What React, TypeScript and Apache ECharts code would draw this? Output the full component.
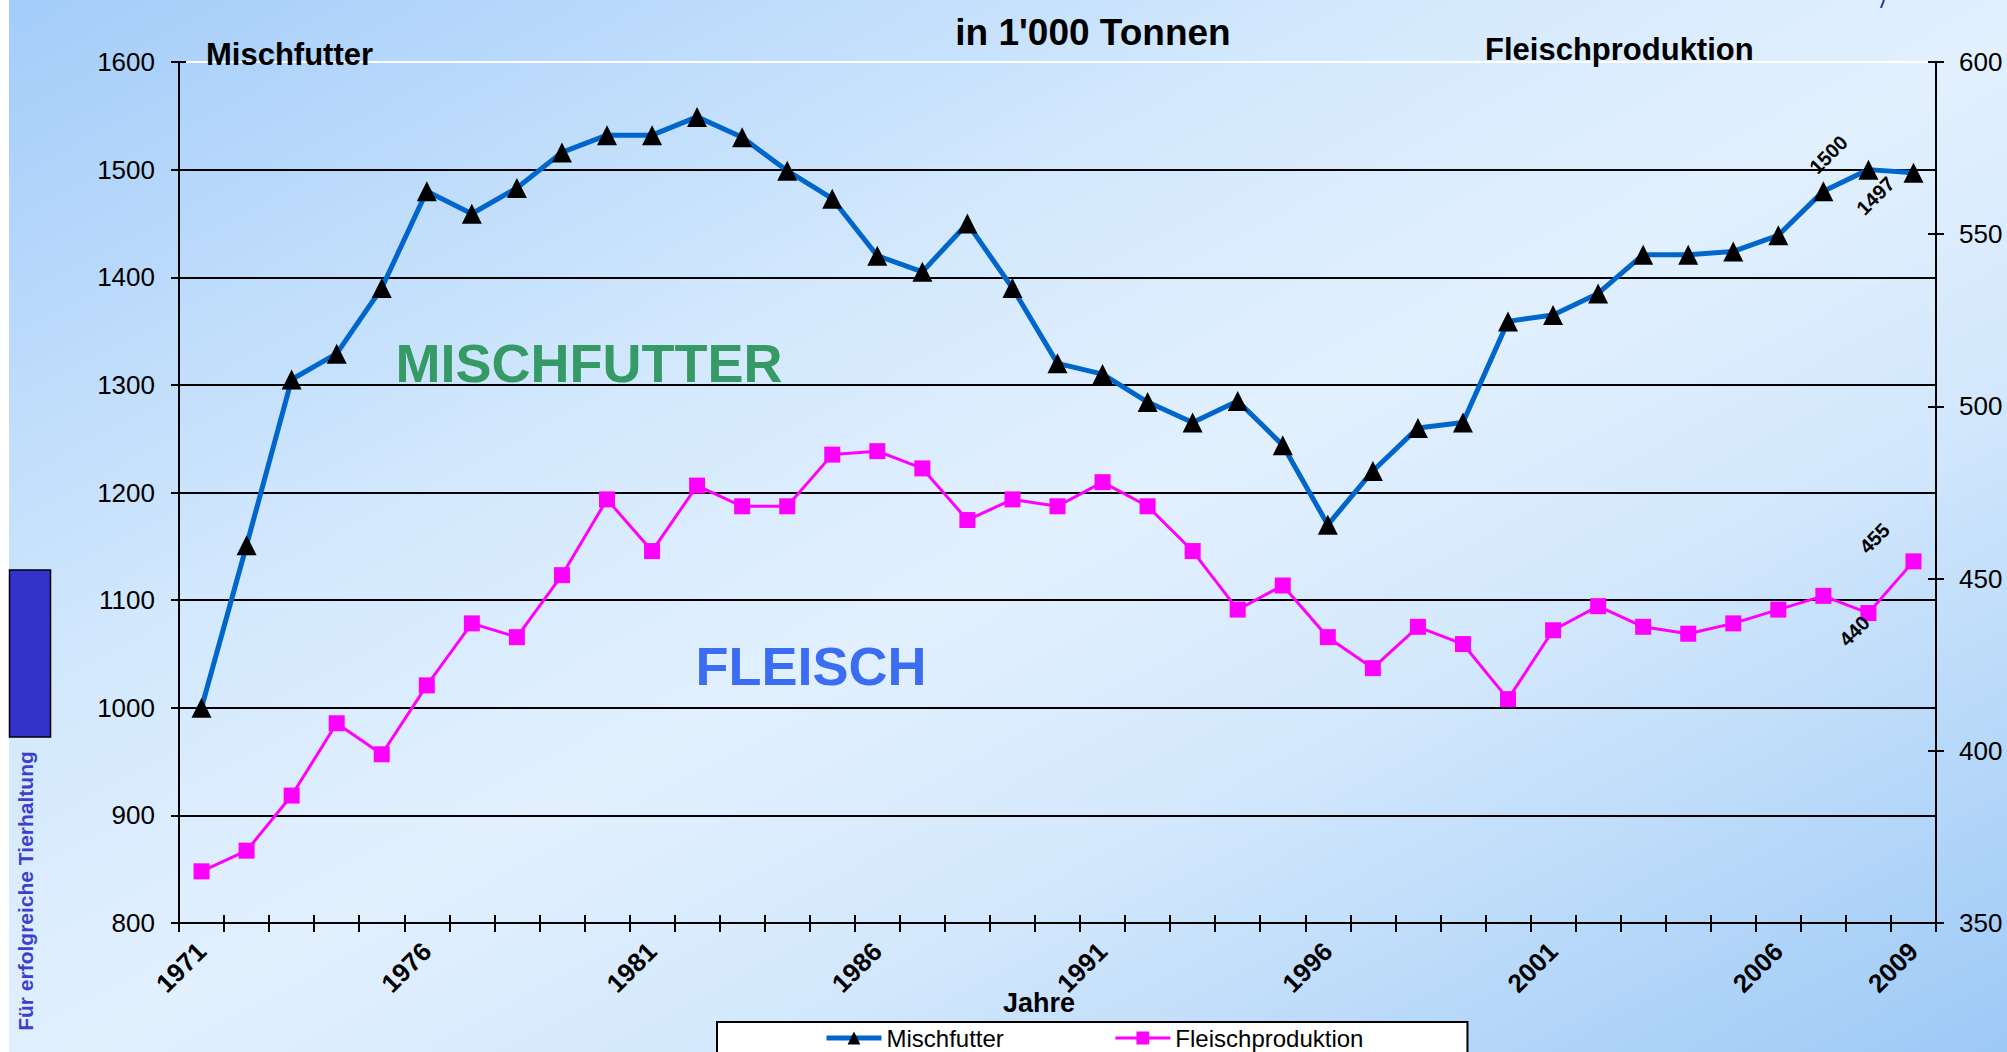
import React, { useEffect, useRef } from "react";
import * as echarts from "echarts";

const years = [
  "1971", "1972", "1973", "1974", "1975", "1976", "1977", "1978", "1979", "1980",
  "1981", "1982", "1983", "1984", "1985", "1986", "1987", "1988", "1989", "1990",
  "1991", "1992", "1993", "1994", "1995", "1996", "1997", "1998", "1999", "2000",
  "2001", "2002", "2003", "2004", "2005", "2006", "2007", "2008", "2009",
];

const mischfutter = [
  1000, 1151, 1305, 1329, 1390, 1480, 1459, 1483, 1516, 1532,
  1532, 1549, 1530, 1499, 1473, 1420, 1405, 1450, 1390, 1320,
  1310, 1284, 1265, 1285, 1244, 1170, 1220, 1260, 1265, 1359,
  1365, 1385, 1421, 1421, 1424, 1439, 1480, 1500, 1497,
];

const fleisch = [
  365, 371, 387, 408, 399, 419, 437, 433, 451, 473,
  458, 477, 471, 471, 486, 487, 482, 467, 473, 471,
  478, 471, 458, 441, 448, 433, 424, 436, 431, 415,
  435, 442, 436, 434, 437, 441, 445, 440, 455,
];

const shownYears = ["1971", "1976", "1981", "1986", "1991", "1996", "2001", "2006", "2009"];

const FONT = "'Liberation Sans', Arial, Helvetica, sans-serif";

export default function App() {
  const ref = useRef<HTMLDivElement>(null);

  useEffect(() => {
    const chart = echarts.init(ref.current as HTMLDivElement, null, { renderer: "svg" });

    const valLabel = {
      show: true,
      rotate: 45,
      color: "#000",
      fontWeight: "bold",
      fontSize: 20,
      fontFamily: FONT,
      align: "center",
      verticalAlign: "middle",
    };

    const mischData = mischfutter.map((v, i) => {
      if (years[i] === "2008") return { value: v, label: { ...valLabel, position: [-30, -5] } };
      if (years[i] === "2009") return { value: v, label: { ...valLabel, position: [-28, 33] } };
      return v;
    });
    const fleischData = fleisch.map((v, i) => {
      if (years[i] === "2008") return { value: v, label: { ...valLabel, position: [-6, 26] } };
      if (years[i] === "2009") return { value: v, label: { ...valLabel, position: [-31, -15] } };
      return v;
    });

    const gridColors = ["#000", "#000", "#000", "#000", "#000", "#000", "#000", "#000", "#fff"];
    const tickStyle = { color: "#000", width: 2 };
    const plain = (v: number) => String(v);

    chart.setOption({
      animation: false,
      backgroundColor: "transparent",
      textStyle: { fontFamily: FONT },
      grid: { left: 179, right: 71, top: 62, bottom: 129, containLabel: false },
      legend: {
        data: [
          { name: "Mischfutter", lineStyle: { width: 5 } },
          { name: "Fleischproduktion", lineStyle: { width: 3 } },
        ],
        left: 717,
        top: 1022,
        orient: "horizontal",
        padding: [4, 104, 10, 107],
        itemGap: 110,
        itemWidth: 55,
        itemHeight: 16,
        backgroundColor: "#fff",
        borderColor: "#000",
        borderWidth: 2,
        borderRadius: 0,
        textStyle: { fontSize: 24, color: "#000", fontFamily: FONT },
      },
      xAxis: [
        {
          type: "category",
          data: years,
          boundaryGap: true,
          position: "bottom",
          axisLine: { show: true, lineStyle: { color: "#000", width: 2 } },
          axisTick: { show: true, interval: 0, length: 9, lineStyle: tickStyle },
          axisLabel: {
            interval: (index: number, value: string) => shownYears.indexOf(value) >= 0,
            rotate: 45,
            fontSize: 26,
            fontWeight: "bold",
            color: "#000",
            margin: 24,
            padding: [26, 0, 0, 0],
            fontFamily: FONT,
          },
          splitLine: { show: false },
        },
        {
          type: "category",
          data: years,
          boundaryGap: true,
          position: "bottom",
          axisLine: { show: false },
          axisTick: { show: true, inside: true, interval: 0, length: 8, lineStyle: tickStyle },
          axisLabel: { show: false },
          splitLine: { show: false },
        },
      ],
      yAxis: [
        {
          type: "value",
          min: 800,
          max: 1600,
          interval: 100,
          position: "left",
          axisLine: { show: true, lineStyle: { color: "#000", width: 2 } },
          axisTick: { show: true, length: 8, lineStyle: tickStyle },
          axisLabel: { fontSize: 26, color: "#000", margin: 24, fontFamily: FONT, formatter: plain },
          splitLine: { show: true, lineStyle: { color: gridColors, width: 2 } },
        },
        {
          type: "value",
          min: 350,
          max: 600,
          interval: 50,
          position: "right",
          axisLine: { show: true, lineStyle: { color: "#000", width: 2 } },
          axisTick: { show: true, length: 8, lineStyle: tickStyle },
          axisLabel: { fontSize: 26, color: "#000", margin: 23, fontFamily: FONT, formatter: plain },
          splitLine: { show: false },
        },
        {
          type: "value",
          min: 800,
          max: 1600,
          interval: 100,
          position: "left",
          axisLine: { show: false },
          axisTick: { show: true, inside: true, length: 7, lineStyle: tickStyle },
          axisLabel: { show: false },
          splitLine: { show: false },
        },
        {
          type: "value",
          min: 350,
          max: 600,
          interval: 50,
          position: "right",
          axisLine: { show: false },
          axisTick: { show: true, inside: true, length: 8, lineStyle: tickStyle },
          axisLabel: { show: false },
          splitLine: { show: false },
        },
      ],
      series: [
        {
          name: "Mischfutter",
          type: "line",
          xAxisIndex: 0,
          yAxisIndex: 0,
          data: mischData,
          symbol: "triangle",
          symbolSize: 20,
          showAllSymbol: true,
          lineStyle: { color: "#0066cc", width: 5 },
          itemStyle: { color: "#000" },
          label: { show: false },
          z: 4,
        },
        {
          name: "Fleischproduktion",
          type: "line",
          xAxisIndex: 0,
          yAxisIndex: 1,
          data: fleischData,
          symbol: "rect",
          symbolSize: 16,
          showAllSymbol: true,
          lineStyle: { color: "#ff00ff", width: 3 },
          itemStyle: { color: "#ff00ff" },
          label: { show: false },
          z: 3,
        },
      ],
      graphic: [
        { type: "rect", silent: true, shape: { x: 0, y: 0, width: 9, height: 1052 }, style: { fill: "#fff" } },
        {
          type: "text", silent: true, x: 1093, y: 32,
          style: { text: "in 1'000 Tonnen", font: `bold 37px ${FONT}`, fill: "#000", align: "center", verticalAlign: "middle", textAlign: "center", textVerticalAlign: "middle" },
        },
        {
          type: "text", silent: true, x: 206, y: 54, z: 10,
          style: { text: "Mischfutter", font: `bold 31px ${FONT}`, fill: "#000", align: "left", verticalAlign: "middle", textAlign: "left", textVerticalAlign: "middle" },
        },
        {
          type: "text", silent: true, x: 1485, y: 49, z: 10,
          style: { text: "Fleischproduktion", font: `bold 31px ${FONT}`, fill: "#000", align: "left", verticalAlign: "middle", textAlign: "left", textVerticalAlign: "middle" },
        },
        {
          type: "text", silent: true, x: 589, y: 363,
          style: { text: "MISCHFUTTER", font: `bold 54px ${FONT}`, fill: "#369a66", align: "center", verticalAlign: "middle", textAlign: "center", textVerticalAlign: "middle" },
        },
        {
          type: "text", silent: true, x: 811, y: 666,
          style: { text: "FLEISCH", font: `bold 54px ${FONT}`, fill: "#3b6df2", align: "center", verticalAlign: "middle", textAlign: "center", textVerticalAlign: "middle" },
        },
        {
          type: "text", silent: true, x: 1039, y: 1003,
          style: { text: "Jahre", font: `bold 27px ${FONT}`, fill: "#000", align: "center", verticalAlign: "middle", textAlign: "center", textVerticalAlign: "middle" },
        },
        {
          type: "rect", silent: true, shape: { x: 9.5, y: 570, width: 41, height: 167 },
          style: { fill: "#3333cc", stroke: "#000", lineWidth: 1.5 },
        },
        {
          type: "text", silent: true, x: 25, y: 891, rotation: Math.PI / 2,
          style: { text: "Für erfolgreiche Tierhaltung", font: `bold 21px ${FONT}`, fill: "#3b3fcc", align: "center", verticalAlign: "middle", textAlign: "center", textVerticalAlign: "middle" },
        },
        {
          type: "line", silent: true, shape: { x1: 1884, y1: 0, x2: 1881, y2: 8 },
          style: { stroke: "#1a3c8c", lineWidth: 2 },
        },
      ],
    });

    return () => chart.dispose();
  }, []);

  return (
    <div
      ref={ref}
      style={{
        position: "fixed",
        left: 0,
        top: 0,
        width: 2007,
        height: 1052,
        background:
          "linear-gradient(to bottom right, #a3ccf9 0%, #d4e9fd 35%, #e2f0fe 52%, #d3e8fc 68%, #9dc9f6 100%)",
      }}
    />
  );
}
